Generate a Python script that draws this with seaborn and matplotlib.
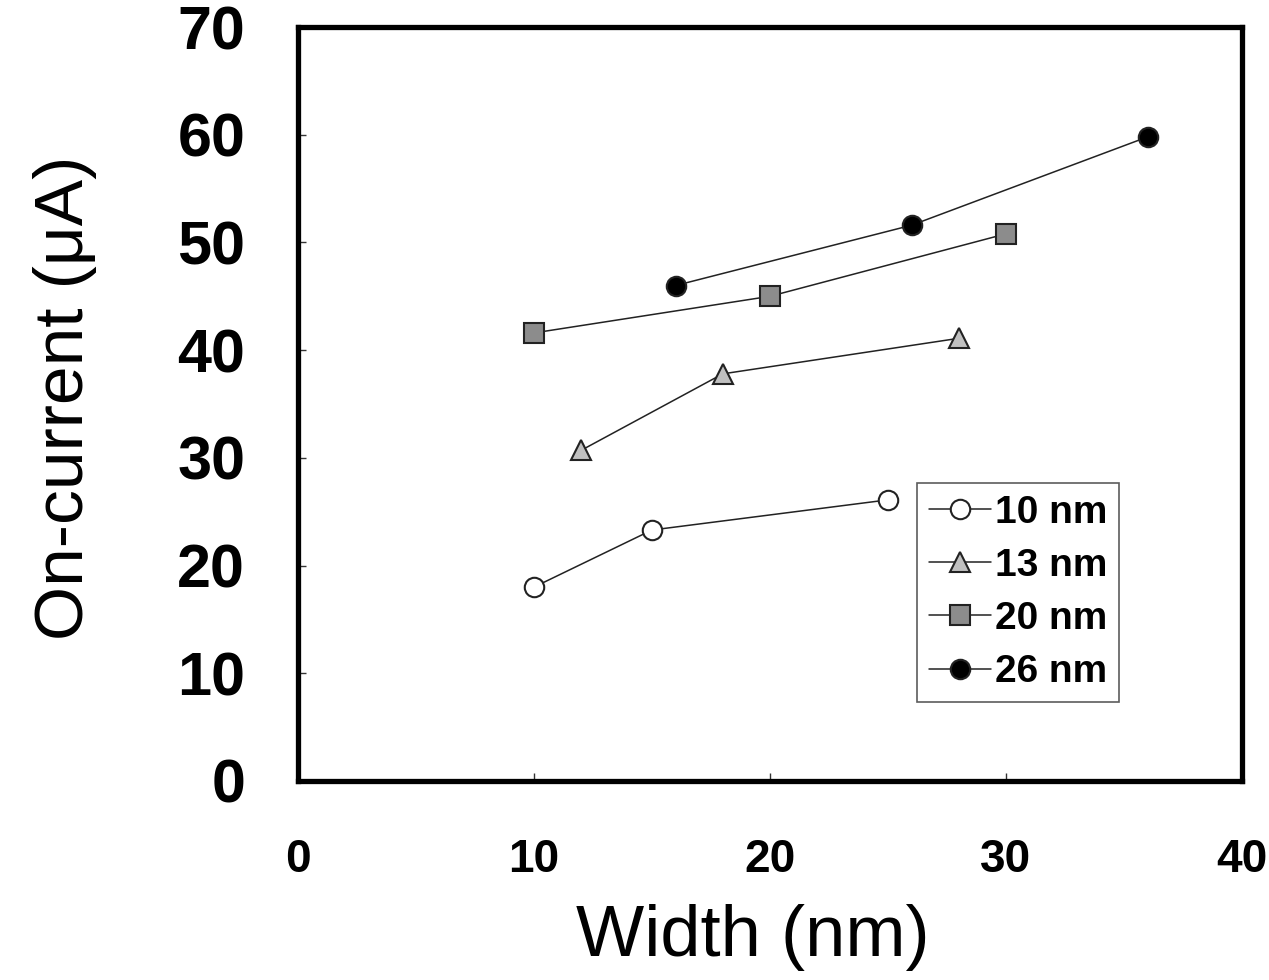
import matplotlib
matplotlib.use("Agg")
import matplotlib.pyplot as plt
import pandas as pd
import seaborn as sns

# Data
widths_10 = [10, 15, 25]
current_10 = [18.0, 23.3, 26.1]
widths_13 = [12, 18, 28]
current_13 = [30.7, 37.8, 41.1]
widths_20 = [10, 20, 30]
current_20 = [41.6, 45.0, 50.8]
widths_26 = [16, 26, 36]
current_26 = [46.0, 51.6, 59.8]

series_names = ["10 nm", "13 nm", "20 nm", "26 nm"]
x_ticks = [0, 10, 20, 30, 40]
y_ticks = [0, 10, 20, 30, 40, 50, 60, 70]

rows = []
for name, xs, ys in zip(series_names,
                        [widths_10, widths_13, widths_20, widths_26],
                        [current_10, current_13, current_20, current_26]):
    for x, y in zip(xs, ys):
        rows.append({"Width": x, "Current": y, "Thickness": name})
df = pd.DataFrame(rows)

sns.set_style("ticks")
plt.rcParams["font.family"] = ["Liberation Sans", "DejaVu Sans"]
plt.rcParams["text.color"] = "black"
plt.rcParams["axes.labelcolor"] = "black"
plt.rcParams["xtick.color"] = "black"
plt.rcParams["ytick.color"] = "black"

# marker, face colour for each series
styles = {
    "10 nm": ("o", "white"),
    "13 nm": ("^", "#c0c0c0"),
    "20 nm": ("s", "#8c8c8c"),
    "26 nm": ("o", "black"),
}

fig = plt.figure(figsize=(12.69, 9.8), dpi=100)
ax = fig.add_axes([0.2348, 0.2031, 0.7439, 0.7693])

for name in series_names:
    marker, face = styles[name]
    sns.lineplot(data=df[df["Thickness"] == name], x="Width", y="Current",
                 ax=ax, color="#222222", linewidth=1.1, marker=marker,
                 markersize=14, markerfacecolor=face, markeredgecolor="#222222",
                 markeredgewidth=1.5, label=name, sort=False)

ax.set_xlim(0, 40)
ax.set_ylim(0, 70)
ax.set_xticks(x_ticks)
ax.set_yticks(y_ticks)

for sp in ax.spines.values():
    sp.set_visible(True)
    sp.set_linewidth(3.8)
    sp.set_color("black")

ax.tick_params(axis="both", direction="in", length=6, width=1, color="#333333")
ax.tick_params(axis="y", pad=38, labelsize=44)
ax.tick_params(axis="x", pad=41, labelsize=33)
for lab in ax.get_xticklabels() + ax.get_yticklabels():
    lab.set_fontweight("bold")

ax.set_xlabel("Width (nm)", fontsize=52, labelpad=16)
ax.set_ylabel("On-current (\u03bcA)", fontsize=50, labelpad=58)
ax.xaxis.label.set_x(0.482)
ax.yaxis.label.set_y(0.508)

leg = ax.legend(loc="lower left", bbox_to_anchor=(0.656, 0.105),
                frameon=True, fancybox=False, edgecolor="#333333",
                prop={"weight": "bold", "size": 28},
                handlelength=1.6, handletextpad=0.1, labelspacing=0.44,
                borderpad=0.3, borderaxespad=0)
leg.get_frame().set_linewidth(1.2)

fig.savefig("out.png", dpi=100)
